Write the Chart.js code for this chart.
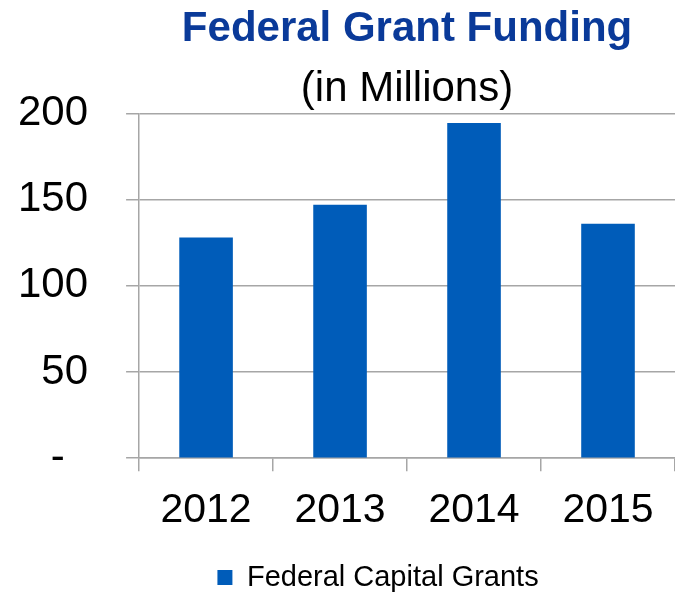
<!DOCTYPE html>
<html>
<head>
<meta charset="utf-8">
<script src="https://cdn.jsdelivr.net/npm/chart.js@4/dist/chart.umd.min.js"></script>
<style>
  body { margin: 0; background: #fff; }
  #wrap { width: 675px; height: 592px; }
</style>
</head>
<body>
<div id="wrap"><canvas id="grantChart"></canvas></div>
<script>
// chart data
const years = ['2012', '2013', '2014', '2015'];
const capitalGrants = [128, 147, 194.5, 136];
const yTicks = [0, 50, 100, 150, 200];

// nudge the legend a bit left of the plot centre, like the original
const legendShift = {
  id: 'legendShift',
  afterLayout(chart) {
    if (chart.legend) {
      chart.legend.left -= 29;
      chart.legend.right -= 29;
    }
  }
};

const ctx = document.getElementById('grantChart').getContext('2d');
const chart = new Chart(ctx, {
  type: 'bar',
  data: {
    labels: years,
    datasets: [{
      label: 'Federal Capital Grants',
      data: capitalGrants,
      backgroundColor: '#005cb9',
      categoryPercentage: 1,
      barPercentage: 0.4
    }]
  },
  plugins: [legendShift],
  options: {
    responsive: true,
    maintainAspectRatio: false,
    animation: false,
    layout: { padding: { top: 4, right: 0, bottom: -10, left: -20 } },
    plugins: {
      title: {
        display: true,
        text: 'Federal Grant Funding',
        color: '#0a3a99',
        fullSize: false,
        font: { family: 'Liberation Sans, Arial', size: 42, weight: 'bold' },
        padding: { top: 0, bottom: 0 }
      },
      subtitle: {
        display: true,
        text: '(in Millions)',
        color: '#000',
        fullSize: false,
        font: { family: 'Liberation Sans, Arial', size: 42, lineHeight: 1 },
        padding: { top: 14, bottom: 3 }
      },
      legend: {
        position: 'bottom',
        fullSize: false,
        labels: {
          color: '#000',
          boxWidth: 15,
          boxHeight: 15,
          font: { family: 'Liberation Sans, Arial', size: 29 },
          padding: 0
        }
      },
      tooltip: { enabled: false }
    },
    scales: {
      x: {
        grid: {
          drawOnChartArea: false,
          color: '#a6a6a6',
          lineWidth: 1.5,
          tickLength: 13
        },
        border: { color: '#a6a6a6', width: 1.5 },
        ticks: {
          color: '#000',
          padding: 15,
          font: { family: 'Liberation Sans, Arial', size: 41 }
        },
        // empty title only keeps a gap above the legend
        title: {
          display: true,
          text: ' ',
          font: { size: 8 },
          padding: { top: 3, bottom: 0 }
        }
      },
      y: {
        min: 0,
        max: 200,
        afterBuildTicks: axis => {
          axis.ticks = yTicks.map(v => ({ value: v }));
        },
        grid: {
          color: '#a6a6a6',
          lineWidth: 1.5,
          tickLength: 13
        },
        border: { color: '#a6a6a6', width: 1.5 },
        ticks: {
          color: '#000',
          padding: 38,
          font: { family: 'Liberation Sans, Arial', size: 42 },
          callback: v => v === 0 ? '-  ' : v
        }
      }
    }
  }
});
</script>
</body>
</html>
